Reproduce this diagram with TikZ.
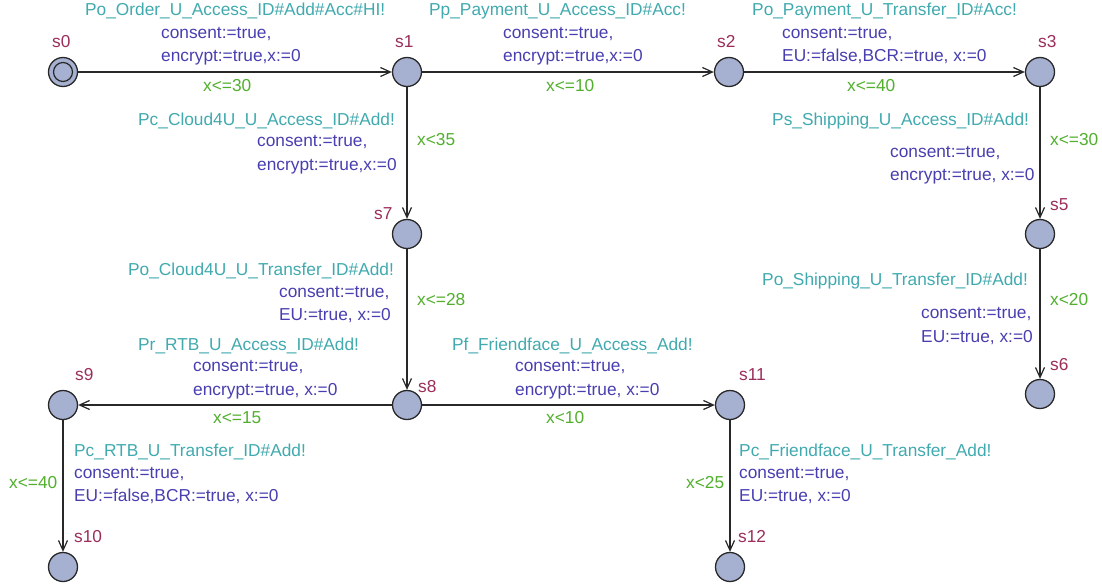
\documentclass[tikz,border=0pt]{standalone}
\usepackage{fontspec}
\setmainfont{Liberation Sans}
\usetikzlibrary{arrows.meta}
\definecolor{locfill}{RGB}{166,176,208}
\definecolor{edgec}{RGB}{40,40,40}
\definecolor{namec}{RGB}{155,45,90}
\definecolor{syncc}{RGB}{64,170,175}
\definecolor{updc}{RGB}{72,62,175}
\definecolor{grdc}{RGB}{80,175,45}
\begin{document}
\begin{tikzpicture}[x=1pt,y=-1pt,
  loc/.style={circle, draw=edgec, line width=1.3pt, fill=locfill, minimum size=29pt, inner sep=0pt},
  lab/.style={inner sep=0pt, anchor=base west, font=\fontsize{17.3}{20}\selectfont},
  lname/.style={lab, text=namec},
  sync/.style={lab, text=syncc},
  upd/.style={lab, text=updc},
  grd/.style={lab, text=grdc},
  edge/.style={draw=edgec, line width=1.2pt, -{Straight Barb[length=10pt,width=9pt,line width=1.2pt]}}
]
\useasboundingbox (0,0) rectangle (1102,586);

% locations
\node[loc] (s0) at (63,72) {};
\draw[edgec, line width=1.2pt] (s0.center) circle (9.5pt);
\node[loc] (s1) at (407,72) {};
\node[loc] (s2) at (729,72) {};
\node[loc] (s3) at (1040,72) {};
\node[loc] (s5) at (1040,234) {};
\node[loc] (s6) at (1040,394) {};
\node[loc] (s7) at (407,234) {};
\node[loc] (s8) at (407,405) {};
\node[loc] (s9) at (63,405) {};
\node[loc] (s10) at (63,567) {};
\node[loc] (s11) at (730,405) {};
\node[loc] (s12) at (730,567) {};

% location names
\node[lname] (n0) at (52,48) {s0};
\node[lname] (n1) at (395,48) {s1};
\node[lname] (n2) at (717,48) {s2};
\node[lname] (n3) at (1038,48) {s3};
\node[lname] (n5) at (1050,210) {s5};
\node[lname] (n6) at (1050,370) {s6};
\node[lname] (n7) at (374,219) {s7};
\node[lname] (n8) at (418,392) {s8};
\node[lname] (n9) at (75,380) {s9};
\node[lname] (n10) at (74,542) {s10};
\node[lname] (n11) at (739,380) {s11};
\node[lname] (n12) at (738,542) {s12};

% transitions
\draw[edge] (s0) -- (s1);
\draw[edge] (s1) -- (s2);
\draw[edge] (s2) -- (s3);
\draw[edge] (s1) -- (s7);
\draw[edge] (s7) -- (s8);
\draw[edge] (s3) -- (s5);
\draw[edge] (s5) -- (s6);
\draw[edge] (s8) -- (s9);
\draw[edge] (s8) -- (s11);
\draw[edge] (s9) -- (s10);
\draw[edge] (s11) -- (s12);

% s0 -> s1
\node[sync] (a1) at (85,16) {Po\_Order\_U\_Access\_ID\#Add\#Acc\#HI!};
\node[upd] (b1) at (161,38) {consent:=true,};
\node[upd] (c1) at (161,62) {encrypt:=true,x:=0};
\node[grd] (g1) at (203,92) {x<=30};

% s1 -> s2
\node[sync] (a2) at (429,16) {Pp\_Payment\_U\_Access\_ID\#Acc!};
\node[upd] (b2) at (503,38) {consent:=true,};
\node[upd] (c2) at (503,62) {encrypt:=true,x:=0};
\node[grd] (g2) at (546,92) {x<=10};

% s2 -> s3
\node[sync] (a3) at (752,16) {Po\_Payment\_U\_Transfer\_ID\#Acc!};
\node[upd] (b3) at (782,38) {consent:=true,};
\node[upd] (c3) at (782,62) {EU:=false,BCR:=true, x:=0};
\node[grd] (g3) at (847,92) {x<=40};

% s1 -> s7
\node[sync] (a4) at (138,125) {Pc\_Cloud4U\_U\_Access\_ID\#Add!};
\node[upd] (b4) at (257,146) {consent:=true,};
\node[upd] (c4) at (257,170) {encrypt:=true,x:=0};
\node[grd] (g4) at (417,145) {x<35};

% s7 -> s8
\node[sync] (a5) at (128,275) {Po\_Cloud4U\_U\_Transfer\_ID\#Add!};
\node[upd] (b5) at (279,297) {consent:=true,};
\node[upd] (c5) at (279,320) {EU:=true, x:=0};
\node[grd] (g5) at (417,305) {x<=28};

% s3 -> s5
\node[sync] (a6) at (772,125) {Ps\_Shipping\_U\_Access\_ID\#Add!};
\node[upd] (b6) at (890,157) {consent:=true,};
\node[upd] (c6) at (890,180) {encrypt:=true, x:=0};
\node[grd] (g6) at (1050,145) {x<=30};

% s5 -> s6
\node[sync] (a7) at (762,285) {Po\_Shipping\_U\_Transfer\_ID\#Add!};
\node[upd] (b7) at (921,318) {consent:=true,};
\node[upd] (c7) at (921,342) {EU:=true, x:=0};
\node[grd] (g7) at (1050,305) {x<20};

% s8 -> s9
\node[sync] (a8) at (138,350) {Pr\_RTB\_U\_Access\_ID\#Add!};
\node[upd] (b8) at (193,371) {consent:=true,};
\node[upd] (c8) at (193,395) {encrypt:=true, x:=0};
\node[grd] (g8) at (213,423) {x<=15};

% s8 -> s11
\node[sync] (a9) at (452,350) {Pf\_Friendface\_U\_Access\_Add!};
\node[upd] (b9) at (515,371) {consent:=true,};
\node[upd] (c9) at (515,395) {encrypt:=true, x:=0};
\node[grd] (g9) at (546,423) {x<10};

% s9 -> s10
\node[sync] (a10) at (74,456) {Pc\_RTB\_U\_Transfer\_ID\#Add!};
\node[upd] (b10) at (74,478) {consent:=true,};
\node[upd] (c10) at (74,501) {EU:=false,BCR:=true, x:=0};
\node[grd] (g10) at (9,488) {x<=40};

% s11 -> s12
\node[sync] (a11) at (739,456) {Pc\_Friendface\_U\_Transfer\_Add!};
\node[upd] (b11) at (739,478) {consent:=true,};
\node[upd] (c11) at (739,501) {EU:=true, x:=0};
\node[grd] (g11) at (686,488) {x<25};
\end{tikzpicture}
\end{document}
